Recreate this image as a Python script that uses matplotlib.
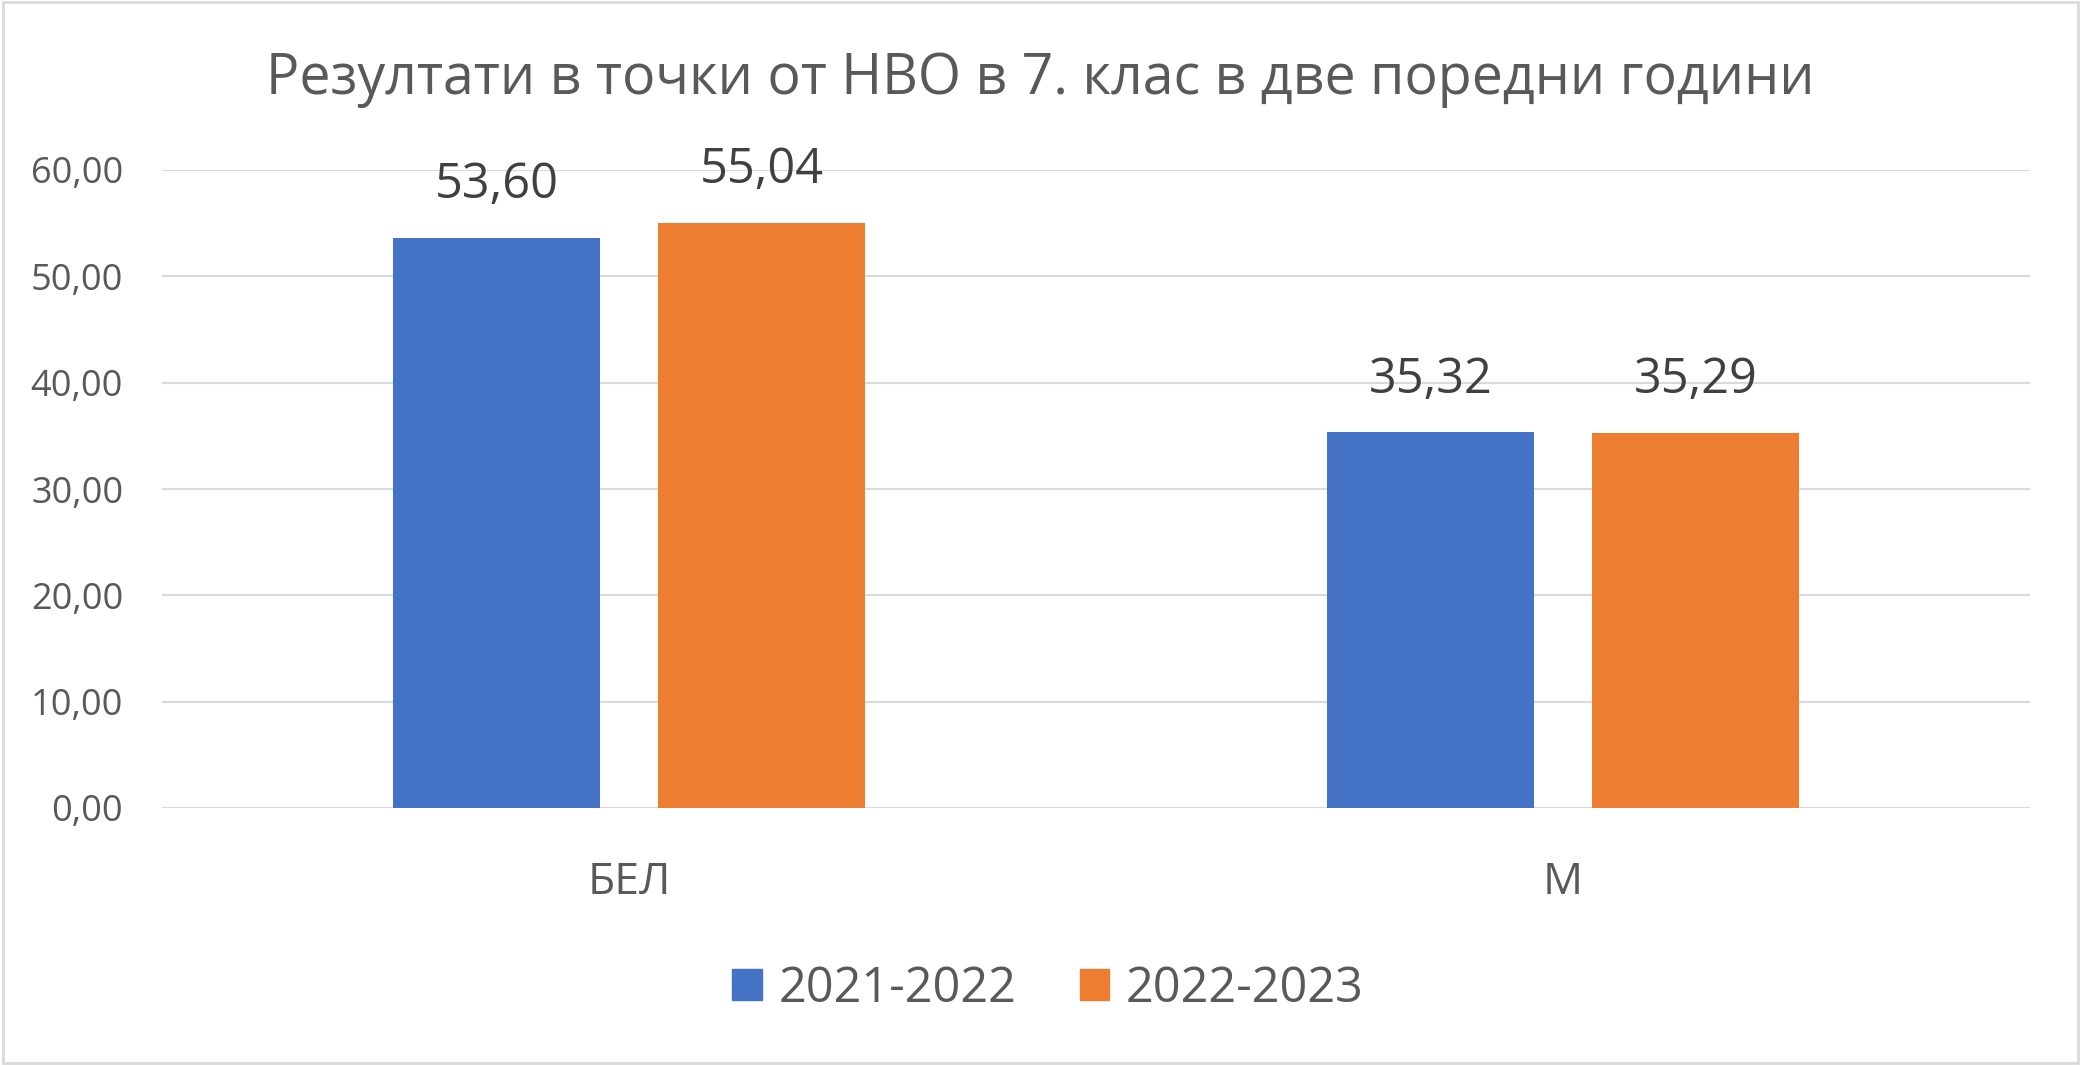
import matplotlib
matplotlib.use("Agg")
import matplotlib.pyplot as plt
import numpy as np
from matplotlib.patches import Rectangle

categories = ["БЕЛ", "М"]
series_names = ["2021-2022", "2022-2023"]
values_2021 = [53.60, 35.32]
values_2022 = [55.04, 35.29]
yticks = [0, 10, 20, 30, 40, 50, 60]
title = "Резултати в точки от НВО в 7. клас в две поредни години"

colors = ["#4472C4", "#ED7D31"]
text_color = "#595959"
label_color = "#404040"
plt.rcParams['font.family'] = ['Open Sans', 'DejaVu Sans']

W, H = 2081, 1065
fig = plt.figure(figsize=(W / 100, H / 100), dpi=100)
ax = fig.add_axes([162 / W, 1 - 808 / H, (2030 - 162) / W, (808 - 170) / H])

x = np.arange(len(categories))
bw = 0.222
off = 0.142
for vals, c, s in zip([values_2021, values_2022], colors, [-1, 1]):
    bars = ax.bar(x + s * off, vals, width=bw, color=c, zorder=3, label=None)
    for b, v in zip(bars, vals):
        ax.annotate(f"{v:.2f}".replace(".", ","), (b.get_x() + b.get_width() / 2, v),
                    xytext=(0, 20), textcoords="offset points", ha="center", va="bottom",
                    fontsize=35, color=label_color)

ax.set_xlim(-0.5, len(categories) - 0.5)
ax.set_ylim(0, 60)
ax.set_yticks(yticks)
ax.set_yticklabels([f"{t:.2f}".replace(".", ",") for t in yticks], fontsize=26, color=text_color)
ax.set_xticks(x)
ax.set_xticklabels(categories, fontsize=32, color=text_color)
ax.tick_params(axis="both", length=0)
ax.tick_params(axis="x", pad=38)
ax.tick_params(axis="y", pad=28)
ax.grid(axis="y", color="#D9D9D9", linewidth=1.5, zorder=0)
for sp in ax.spines.values():
    sp.set_visible(False)
ax.axhline(0, color="#D9D9D9", linewidth=1.5, zorder=2)

fig.text(0.5, 1 - 80 / H, title, ha="center", va="center", fontsize=40, color=text_color)

handles = [Rectangle((0, 0), 1, 1, color=c) for c in colors]
fig.legend(handles, series_names, loc="center", bbox_to_anchor=(1048 / W, 1 - 989 / H),
           ncol=2, frameon=False, fontsize=35, labelcolor=text_color,
           handlelength=0.6, handleheight=0.6, columnspacing=1.3, handletextpad=0.35)

fig.patches.append(Rectangle((0.0015, 0.002), 0.997, 0.996, transform=fig.transFigure,
                             fill=False, edgecolor="#D9D9D9", linewidth=2))

fig.savefig("out.png", dpi=100, facecolor="white")
